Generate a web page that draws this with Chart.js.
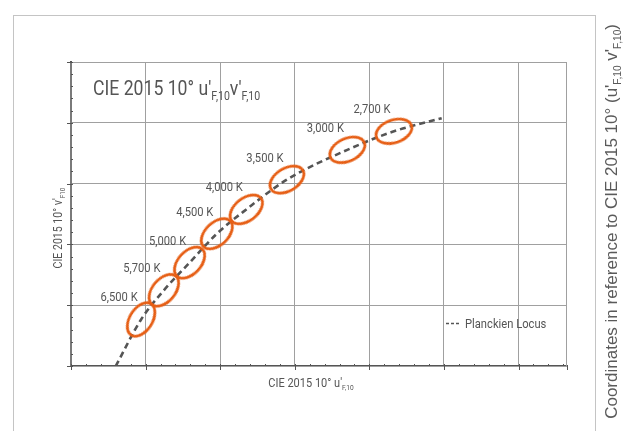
<!DOCTYPE html>
<html>
<head>
<meta charset="utf-8">
<script src="https://cdn.jsdelivr.net/npm/chart.js@4.4.0/dist/chart.umd.min.js"></script>
<style>
  html, body { margin: 0; padding: 0; background: #fff; }
  #wrap { width: 624px; height: 431px; position: relative; }
</style>
</head>
<body>
<div id="wrap"><canvas id="locusChart"></canvas></div>
<script>
// Planckian locus trace, CIE 2015 10deg (u'F,10 , v'F,10)
var locusU = [0.1920, 0.1988, 0.2049, 0.2118, 0.2191, 0.2270, 0.2379, 0.2541, 0.2666, 0.2794];
var locusV = [0.4500, 0.4653, 0.4749, 0.4840, 0.4935, 0.5015, 0.5113, 0.5211, 0.5272, 0.5315];

// colour temperatures circled on the locus
var tempLabels = ['6,500 K', '5,700 K', '5,000 K', '4,500 K', '4,000 K', '3,500 K', '3,000 K', '2,700 K'];
var tempU = [0.1988, 0.2049, 0.2118, 0.2191, 0.2270, 0.2379, 0.2541, 0.2666];
var tempV = [0.4653, 0.4749, 0.4840, 0.4935, 0.5015, 0.5113, 0.5211, 0.5272];

// grid lines (the original shows no tick labels)
var uTicks = [0.18, 0.20, 0.22, 0.24, 0.26, 0.28, 0.30];
var vTicks = [0.45, 0.47, 0.49, 0.51, 0.53, 0.55];
var uMin = 0.18, uMax = 0.313, vMin = 0.45, vMax = 0.55, minorStep = 0.004;

var NARROW = 'Roboto, "Liberation Sans", sans-serif';
var REGULAR = '"Liberation Sans", Arial, sans-serif';
var ORANGE = '#e65e14';
var LINE = '#555555';

function toPoints(us, vs) {
  var out = [];
  for (var i = 0; i < us.length; i++) out.push({x: us[i], y: vs[i]});
  return out;
}

// ring used as point style, rotated per point along the locus
function makeRing() {
  var c = document.createElement('canvas');
  c.width = 44; c.height = 30;
  var g = c.getContext('2d');
  g.strokeStyle = ORANGE;
  g.lineWidth = 2.8;
  g.beginPath();
  g.ellipse(22, 15, 18.5, 11.3, 0, 0, Math.PI * 2);
  g.stroke();
  return c;
}

// text with subscripts: parts = [[text, isSub], ...], sq squeezes it sideways
function richWidth(ctx, parts, size, family, sq) {
  var w = 0;
  parts.forEach(function(p) {
    ctx.font = (p[1] ? size * 0.6 : size) + 'px ' + family;
    w += ctx.measureText(p[0]).width;
  });
  return w * (sq || 1);
}
function richText(ctx, parts, x, y, size, family, sq) {
  var w = 0;
  ctx.save();
  ctx.translate(x, y);
  ctx.scale(sq || 1, 1);
  parts.forEach(function(p) {
    ctx.font = (p[1] ? size * 0.6 : size) + 'px ' + family;
    ctx.fillText(p[0], w, p[1] ? size * 0.22 : 0);
    w += ctx.measureText(p[0]).width;
  });
  ctx.restore();
}

var decor = {
  id: 'decor',
  beforeDraw: function(chart) {
    var ctx = chart.ctx;
    ctx.save();
    ctx.strokeStyle = '#c4c4c4';
    ctx.lineWidth = 1;
    ctx.strokeRect(13.5, 15.5, 582, 430);
    ctx.restore();
  },
  beforeDatasetsDraw: function(chart) {
    var ctx = chart.ctx, a = chart.chartArea;
    ctx.save();
    ctx.strokeStyle = '#a0a0a0';
    ctx.lineWidth = 1;
    ctx.strokeRect(a.left, a.top + 0.5, a.right - a.left - 0.5, a.bottom - a.top);
    ctx.restore();
  },
  afterDraw: function(chart) {
    var ctx = chart.ctx, a = chart.chartArea;
    var xs = chart.scales.x, ys = chart.scales.y;
    ctx.save();

    // axis ticks: major outside, minor inside
    ctx.strokeStyle = LINE;
    ctx.lineWidth = 1;
    ctx.beginPath();
    var v, p;
    for (v = uMin; v <= uMax + 1e-9; v += minorStep) {
      p = Math.round(xs.getPixelForValue(v)) + 0.5;
      ctx.moveTo(p, a.bottom - 2);
      ctx.lineTo(p, a.bottom);
    }
    for (v = vMin; v <= vMax + 1e-9; v += minorStep) {
      p = Math.round(ys.getPixelForValue(v)) + 0.5;
      ctx.moveTo(a.left, p);
      ctx.lineTo(a.left + 2, p);
    }
    uTicks.concat([uMax]).forEach(function(t) {
      var px = Math.round(xs.getPixelForValue(t)) + 0.5;
      ctx.moveTo(px, a.bottom);
      ctx.lineTo(px, a.bottom + 4);
    });
    vTicks.forEach(function(t) {
      var py = Math.round(ys.getPixelForValue(t)) + 0.5;
      ctx.moveTo(a.left - 4, py);
      ctx.lineTo(a.left + 2, py);
    });
    ctx.stroke();

    ctx.fillStyle = '#555';
    ctx.textBaseline = 'alphabetic';
    ctx.textAlign = 'left';

    // title inside the plot
    richText(ctx, [["CIE 2015 10\u00b0 u'", false], ['F,10', true], ["v'", false], ['F,10', true]],
      a.left + 22, a.top + 33, 20.5, NARROW, 0.86);

    // x axis title
    var xt = [["CIE 2015 10\u00b0 u'", false], ['F,10', true]];
    var w = richWidth(ctx, xt, 12.5, NARROW, 0.88);
    richText(ctx, xt, 311 - w / 2, a.bottom + 21, 12.5, NARROW, 0.88);

    // y axis title
    var yt = [["CIE 2015 10\u00b0 v'", false], ['F10', true]];
    w = richWidth(ctx, yt, 12, NARROW, 0.88);
    ctx.save();
    ctx.translate(62, 228);
    ctx.rotate(-Math.PI / 2);
    richText(ctx, yt, -w / 2, 0, 12, NARROW, 0.88);
    ctx.restore();

    // side note on the right
    ctx.fillStyle = '#5a5a5a';
    var rt = [["Coordinates in reference to CIE 2015 10\u00b0 (u'", false], ['F,10', true], [" v'", false], ['F,10', true], [')', false]];
    w = richWidth(ctx, rt, 17, REGULAR);
    ctx.save();
    ctx.translate(617, 24);
    ctx.rotate(-Math.PI / 2);
    richText(ctx, rt, -w, 0, 17, REGULAR);
    ctx.restore();

    // temperature labels
    ctx.fillStyle = '#555';
    var meta = chart.getDatasetMeta(0);
    meta.data.forEach(function(pt, i) {
      var parts = [[tempLabels[i], false]];
      var lw = richWidth(ctx, parts, 13, NARROW, 0.86);
      richText(ctx, parts, pt.x - 22 - lw / 2, pt.y - 18, 13, NARROW, 0.86);
    });

    // legend
    var lx = a.right - 121, ly = a.bottom - 43;
    ctx.strokeStyle = LINE;
    ctx.lineWidth = 1.6;
    ctx.setLineDash([3, 2]);
    ctx.beginPath();
    ctx.moveTo(lx, ly + 0.5);
    ctx.lineTo(lx + 13, ly + 0.5);
    ctx.stroke();
    ctx.setLineDash([]);
    richText(ctx, [['Planckien Locus', false]], lx + 19, ly + 5, 13, NARROW, 0.86);

    ctx.restore();
  }
};

var ring = makeRing();

new Chart(document.getElementById('locusChart'), {
  type: 'scatter',
  data: {
    datasets: [
      {
        label: 'Colour temperature',
        data: toPoints(tempU, tempV),
        pointStyle: ring,
        rotation: function(c) {
          var i = c.dataIndex, n = tempU.length;
          var xs = c.chart.scales.x, ys = c.chart.scales.y;
          var pu = i > 0 ? tempU[i - 1] : locusU[0];
          var pv = i > 0 ? tempV[i - 1] : locusV[0];
          var nu = i < n - 1 ? tempU[i + 1] : locusU[locusU.length - 1];
          var nv = i < n - 1 ? tempV[i + 1] : locusV[locusV.length - 1];
          var dx = xs.getPixelForValue(nu) - xs.getPixelForValue(pu);
          var dy = ys.getPixelForValue(nv) - ys.getPixelForValue(pv);
          return Math.atan2(dy, dx) * 180 / Math.PI;
        },
        showLine: false,
        clip: false
      },
      {
        label: 'Planckien Locus',
        data: toPoints(locusU, locusV),
        showLine: true,
        borderColor: LINE,
        borderWidth: 2.6,
        borderDash: [6, 4],
        cubicInterpolationMode: 'monotone',
        pointRadius: 0,
        pointHoverRadius: 0
      }
    ]
  },
  options: {
    responsive: true,
    maintainAspectRatio: false,
    animation: false,
    events: [],
    layout: { padding: { left: 71, right: 57, top: 62, bottom: 65 } },
    plugins: {
      legend: { display: false },
      tooltip: { enabled: false }
    },
    scales: {
      x: {
        type: 'linear',
        min: uMin,
        max: uMax,
        afterBuildTicks: function(scale) {
          scale.ticks = uTicks.map(function(t) { return {value: t}; });
        },
        ticks: { display: false },
        grid: { color: '#a0a0a0', lineWidth: 1, drawTicks: false },
        border: { color: LINE, width: 2 }
      },
      y: {
        type: 'linear',
        min: vMin,
        max: vMax,
        afterBuildTicks: function(scale) {
          scale.ticks = vTicks.map(function(t) { return {value: t}; });
        },
        ticks: { display: false },
        grid: { color: '#a0a0a0', lineWidth: 1, drawTicks: false },
        border: { color: LINE, width: 2 }
      }
    }
  },
  plugins: [decor]
});
</script>
</body>
</html>
